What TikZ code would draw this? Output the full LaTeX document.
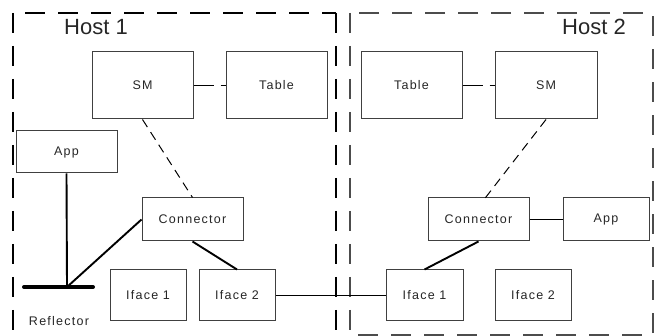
\documentclass[tikz,border=0pt]{standalone}
\usepackage{fontspec}
\setmainfont{Liberation Sans}
\newfontfamily\lblfont[LetterSpace=10]{Liberation Sans}
\begin{document}
\begin{tikzpicture}[x=1pt,y=-1pt,
  bx/.style={draw=black!75, line width=1pt, inner sep=0pt, text=black!85,
    font=\lblfont\fontsize{12.5}{14}\selectfont},
  wire/.style={line width=1.9pt, black},
  dlink/.style={line width=1pt, black, dash pattern=on 9pt off 6pt},
  hostline/.style={line width=1.1pt, dash pattern=on 20pt off 13pt},
  hostlbl/.style={font=\fontsize{22}{24}\selectfont, text=black!85, inner sep=0pt}]
\useasboundingbox (0,0) rectangle (658,336);
% host boundaries
\draw[hostline, black] (13,13) -- (13,336);
\draw[hostline, black, dash phase=21pt] (13,13) -- (336,13);
\draw[hostline, black] (336,13) -- (336,336);
\draw[hostline, black!70, line width=1.4pt] (350,13) rectangle (653,335);
\node[hostlbl] (h1) at (96,27) {Host 1};
\node[hostlbl] (h2) at (594,27) {Host 2};
% host 1 nodes
\node[bx, minimum width=101pt, minimum height=67pt] (sm1) at (142.5,85.5) {SM};
\node[bx, minimum width=101pt, minimum height=67pt] (tab1) at (276.5,85.5) {Table};
\node[bx, minimum width=101pt, minimum height=42pt] (app1) at (66.5,152) {App};
\node[bx, minimum width=101pt, minimum height=43pt] (con1) at (192.5,219.5) {Connector};
\node[bx, minimum width=76pt, minimum height=51pt] (if11) at (148,295.5) {Iface 1};
\node[bx, minimum width=76pt, minimum height=51pt] (if12) at (237,295.5) {Iface 2};
% reflector
\coordinate (refl) at (67,287);
\coordinate (reflL) at (24,287);
\coordinate (reflR) at (93,287);
\draw[line width=4pt, line cap=round] (reflL) -- (reflR);
\node[font=\lblfont\fontsize{12.5}{14}\selectfont, text=black!85, inner sep=0pt] (refllbl) at (59,321) {Reflector};
% host 2 nodes
\node[bx, minimum width=101pt, minimum height=67pt] (tab2) at (411.5,85.5) {Table};
\node[bx, minimum width=102pt, minimum height=67pt] (sm2) at (546,85.5) {SM};
\node[bx, minimum width=101pt, minimum height=43pt] (con2) at (478.5,219.5) {Connector};
\node[bx, minimum width=86pt, minimum height=43pt] (app2) at (606,219.5) {App};
\node[bx, minimum width=77pt, minimum height=51pt] (if21) at (424.5,295.5) {Iface 1};
\node[bx, minimum width=76pt, minimum height=51pt] (if22) at (533,295.5) {Iface 2};
% dashed links
\draw[dlink, dash pattern=on 20pt off 7pt] (sm1.east) -- (tab1.west);
\draw[dlink] (sm1.south) -- (con1.north);
\draw[dlink, dash pattern=on 20pt off 7pt] (tab2.east) -- (sm2.west);
\draw[dlink] (sm2.south) -- ([xshift=4pt,yshift=-4pt]con2.north);
% solid links
\draw[wire] (app1.south) -- (refl);
\draw[wire] (con1.west) -- (refl);
\draw[wire] (con1.south) -- (if12.north);
\draw[wire] (if12.east) -- (if21.west);
\draw[wire] (con2.south) -- (if21.north);
\draw[wire] (con2.east) -- (app2.west);
\end{tikzpicture}
\end{document}
